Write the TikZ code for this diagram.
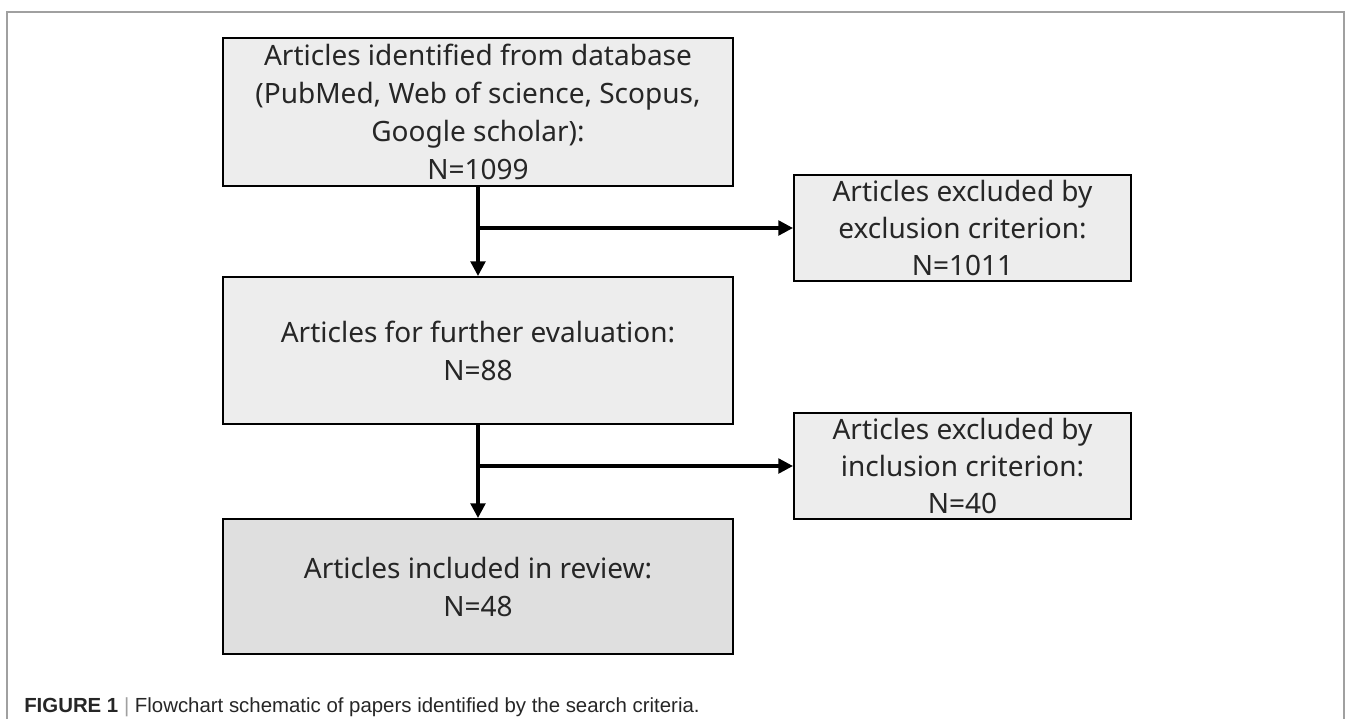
\documentclass[tikz,border=0pt]{standalone}
\usepackage{fontspec}
\setmainfont{Noto Sans}
\newfontfamily\capfont{Liberation Sans}
\usetikzlibrary{positioning,arrows.meta}
\definecolor{boxfill}{HTML}{EDEDED}
\definecolor{lastfill}{HTML}{DFDFDF}
\definecolor{framegray}{HTML}{A0A0A0}
\definecolor{inktext}{HTML}{262626}
\begin{document}
\begin{tikzpicture}[x=0.75pt, y=-0.75pt,
mainbox/.style={draw, line width=1.5pt, fill=boxfill, text=inktext, align=center,
  minimum width=382.5pt, inner sep=0pt, font=\fontsize{21}{28.5}\selectfont},
sidebox/.style={mainbox, minimum width=252.75pt, minimum height=79.5pt, font=\fontsize{21}{27.5}\selectfont},
flow/.style={line width=2.5pt, -{Triangle[length=11pt,width=11pt]}},
node distance=66.75pt]
\useasboundingbox (0,0) rectangle (1346,719);
\draw[framegray, line width=1.5pt] (7,719) -- (7,12) -- (1344,12) -- (1344,719);
% main column
\node[mainbox, minimum height=111pt] (found) at (478,112)
    {Articles identified from database\\(PubMed, Web of science, Scopus,\\Google scholar):\\N=1099};
\node[mainbox, minimum height=110.25pt, below=of found] (eval)
    {Articles for further evaluation:\\N=88};
\node[mainbox, minimum height=101.25pt, fill=lastfill, below=69.75pt of eval] (incl)
    {Articles included in review:\\N=48};
% exclusions
\coordinate (split1) at ([yshift=-30.75pt]found.south);
\coordinate (split2) at ([yshift=-30.75pt]eval.south);
\node[sidebox, anchor=west] (excl) at ([xshift=44.25pt]split1 -| found.east)
    {Articles excluded by\\exclusion criterion:\\N=1011};
\node[sidebox, anchor=west] (notincl) at ([xshift=44.25pt]split2 -| found.east)
    {Articles excluded by\\inclusion criterion:\\N=40};
\draw[flow] (found.south) -- (eval.north);
\draw[flow] (split1) -- (excl.west);
\draw[flow] (eval.south) -- (incl.north);
\draw[flow] (split2) -- (notincl.west);
% caption
\node[anchor=base west, inner sep=0pt, text=inktext, font=\capfont\fontsize{15.3}{18}\selectfont] (caption) at (24,712)
    {\textbf{FIGURE 1} {\color{framegray}|} Flowchart schematic of papers identified by the search criteria.};
\end{tikzpicture}
\end{document}
